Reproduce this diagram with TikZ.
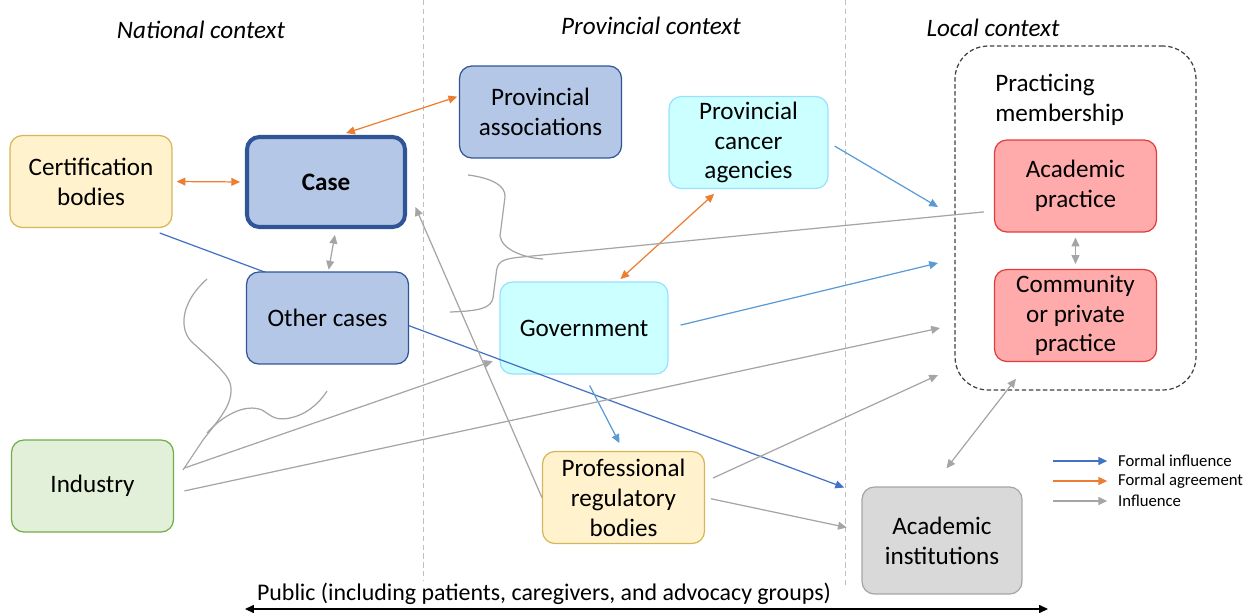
\documentclass[tikz,border=0pt]{standalone}
\usepackage{fontspec}
\setmainfont{Carlito}
\usetikzlibrary{arrows.meta}

\definecolor{cboxblue}{HTML}{B4C7E7}
\definecolor{clineblue}{HTML}{2F5597}
\definecolor{cboxcyan}{HTML}{CCFFFF}
\definecolor{clinecyan}{HTML}{99E0FF}
\definecolor{cboxyellow}{HTML}{FFF2CC}
\definecolor{clineyellow}{HTML}{D6B656}
\definecolor{cboxgreen}{HTML}{E2F0D9}
\definecolor{clinegreen}{HTML}{70AD47}
\definecolor{cboxred}{HTML}{FFABAB}
\definecolor{clinered}{HTML}{E03C3C}
\definecolor{cboxgrey}{HTML}{D9D9D9}
\definecolor{clinegrey}{HTML}{A6A6A6}
\definecolor{cformal}{HTML}{4472C4}
\definecolor{cformallight}{HTML}{5B9BD5}
\definecolor{cagree}{HTML}{ED7D31}
\definecolor{cinfl}{HTML}{A5A5A5}

\begin{document}
\begin{tikzpicture}[x=0.02cm,y=-0.02cm,
    box/.style={draw,rounded corners=7pt,align=center,inner sep=1pt,
      minimum width=3.24cm,minimum height=1.84cm,line width=0.7pt,
      font=\fontsize{14.3}{17}\selectfont},
    ctx/.style={font=\fontsize{14.3}{17}\selectfont\itshape},
    legendtxt/.style={anchor=west,inner sep=1pt,font=\fontsize{9.5}{11}\selectfont},
    onehead/.style={-{Triangle[length=5pt,width=4.5pt]}},
    twoheads/.style={{Triangle[length=5pt,width=4.5pt]}-{Triangle[length=5pt,width=4.5pt]}},
    formal/.style={draw=cformal,line width=0.7pt},
    formallight/.style={draw=cformallight,line width=0.7pt},
    agreement/.style={draw=cagree,line width=0.7pt},
    influence/.style={draw=cinfl,line width=0.7pt},
    separator/.style={draw=black!25,line width=0.5pt,dash pattern=on 3pt off 2pt}]
  \useasboundingbox (0,0) rectangle (1247,612);

  % contexts
  \node[ctx] (national) at (201,30) {National context};
  \node[ctx] (provincial) at (651,26) {Provincial context};
  \node[ctx] (local) at (993,28) {Local context};
  \draw[separator] (423,0) -- (423,580);
  \draw[separator] (845,0) -- (845,588);

  \node[draw=black!75,line width=0.7pt,dash pattern=on 2.5pt off 1.5pt,rounded corners=0.66cm,
    minimum width=4.82cm,minimum height=6.88cm] (member) at (1075.5,218) {};
  \node[anchor=north west,inner sep=0pt,align=left,font=\fontsize{14.3}{17}\selectfont]
    (memberlabel) at (995,74) {Practicing\\membership};

  \node[box,fill=cboxyellow,draw=clineyellow] (cert) at (91,181.5) {Certification\\bodies};
  \node[box,fill=cboxblue,draw=clineblue,line width=2.3pt,minimum width=3.16cm,minimum height=1.8cm,
    font=\fontsize{14.3}{17}\selectfont\bfseries] (case) at (326,182) {Case};
  \node[box,fill=cboxblue,draw=clineblue] (assoc) at (540.5,112) {Provincial\\associations};
  \node[box,fill=cboxcyan,draw=clinecyan,minimum width=3.18cm] (pca) at (748.5,142.5) {Provincial\\cancer\\agencies};
  \node[box,fill=cboxcyan,draw=clinecyan,minimum width=3.36cm] (gov) at (584,328) {Government};
  \node[box,fill=cboxyellow,draw=clineyellow] (prb) at (623.5,497.5) {Professional\\regulatory\\bodies};
  \node[box,fill=cboxgreen,draw=clinegreen] (ind) at (92.5,486) {Industry};
  \node[box,fill=cboxgrey,draw=clinegrey,minimum width=3.2cm,minimum height=2.14cm] (acad) at (942,540.5) {Academic\\institutions};
  \node[box,fill=cboxred,draw=clinered] (acpr) at (1075.5,186) {Academic\\practice};
  \node[box,fill=cboxred,draw=clinered] (copr) at (1075.5,315.5) {Community\\or private\\practice};

  \coordinate (inA) at (938,207);
  \coordinate (inB) at (938,263);
  \coordinate (inC) at (940,328);
  \coordinate (inD) at (938,375);

  % runs behind the other cases box
  \draw[formal,onehead,shorten <=8pt,shorten >=10.5pt] (cert.-40) -- (acad.150);
  \node[box,fill=cboxblue,draw=clineblue] (others) at (327.5,318) {Other cases};

  \draw[agreement,twoheads,shorten <=2.3pt,shorten >=2.8pt] (cert.east) -- (case.west);
  \draw[agreement,twoheads,shorten <=3.4pt,shorten >=1pt] (case.73) -- (assoc.169);
  \draw[agreement,twoheads,shorten <=4pt,shorten >=2pt] (pca.238) -- (gov.54);

  \draw[formallight,onehead,shorten <=4pt] (pca.east) -- (inA);
  \draw[formallight,onehead,shorten <=7pt] (gov.east) -- (inB);
  \draw[formallight,onehead,shorten <=7pt,shorten >=5pt] (gov.south) -- (prb.north);

  \draw[influence,twoheads,shorten <=3.4pt,shorten >=1pt] (case.-78) -- (others.89);
  \draw[influence,onehead,shorten >=12pt] (prb.west) -- (case.-4);
  \draw[influence,onehead,shorten <=6pt,shorten >=4pt] (ind.10) -- (gov.200);
  \draw[influence,onehead,shorten <=6pt] (ind.-5) -- (inC);
  \draw[influence,onehead,shorten <=5pt] (prb.11) -- (inD);
  \draw[influence,onehead,shorten <=3.5pt,shorten >=8.5pt] (prb.east) -- (acad.173);
  \draw[influence,twoheads,shorten <=13pt,shorten >=12pt] (acad.100) -- (copr.225);
  \draw[influence,twoheads,shorten <=2.8pt,shorten >=2.8pt] (acpr.south) -- (copr.north);

  \draw[influence,shorten <=5.7pt] (acpr.197) -- (522,257) .. controls (500,259) and (497,262) .. (496,275)
    -- (493,298) .. controls (491,308) and (480,311) .. (450,312);
  \draw[influence] (468,175) .. controls (492,178) and (506,186) .. (505,197)
    -- (500,236) .. controls (502,250) and (525,258) .. (543,259);
  \draw[influence] (183,470) -- (203,440) .. controls (220,418) and (232,405) .. (231,388)
    .. controls (230,378) and (225,372) .. (193,343) .. controls (180,332) and (178,305) .. (207,279);
  \draw[influence] (207,433) .. controls (222,416) and (245,403) .. (262,410)
    .. controls (272,416) and (275,421) .. (290,418) .. controls (305,415) and (318,405) .. (327,391);

  % legend
  \node[legendtxt] (lgformal) at (1116,461) {Formal influence};
  \node[legendtxt] (lgagree) at (1116,481) {Formal agreement};
  \node[legendtxt] (lginfl) at (1116,501) {Influence};
  \coordinate (lgformalstart) at (1053,461);
  \coordinate (lgagreestart) at (1053,481);
  \coordinate (lginflstart) at (1053,501);
  \draw[formal,onehead,shorten >=5pt] (lgformalstart) -- (lgformal.west);
  \draw[agreement,onehead,shorten >=5pt] (lgagreestart) -- (lgagree.west);
  \draw[influence,onehead,shorten >=5pt] (lginflstart) -- (lginfl.west);

  % public
  \node[font=\fontsize{13.6}{16}\selectfont] (public) at (544,594) {Public (including patients, caregivers, and advocacy groups)};
  \coordinate (pubL) at (245,609);
  \coordinate (pubR) at (1048,609);
  \draw[black,line width=0.7pt,twoheads] (pubL) -- (pubR);
\end{tikzpicture}
\end{document}
